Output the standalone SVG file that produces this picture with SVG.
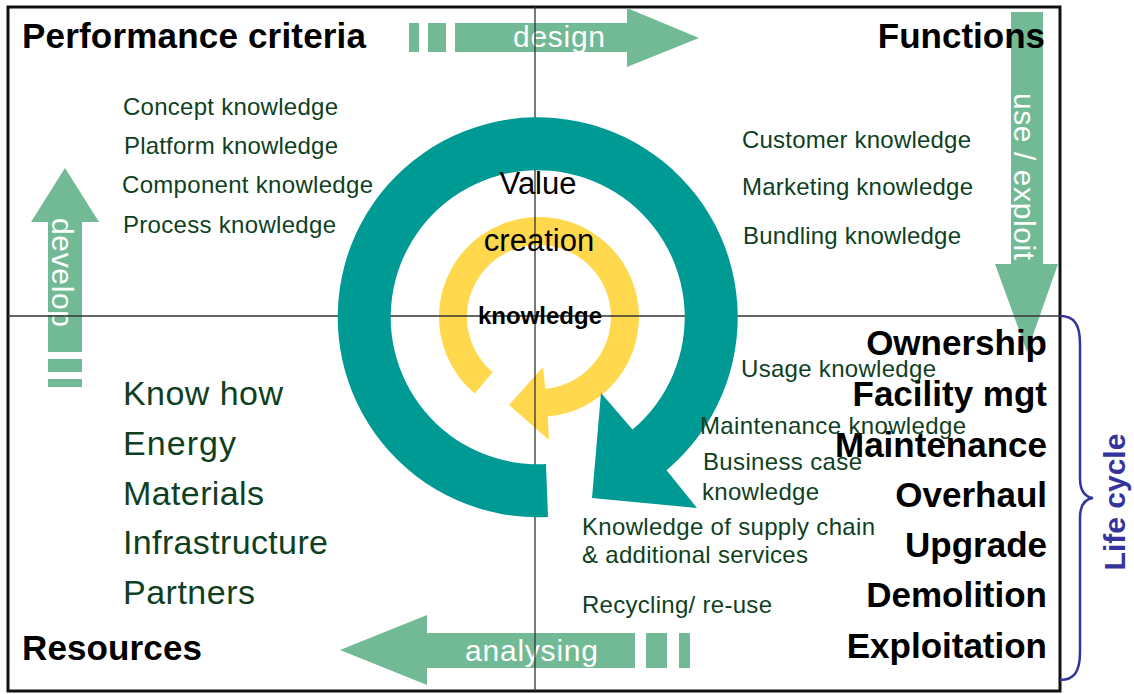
<svg xmlns="http://www.w3.org/2000/svg" width="1134" height="694" viewBox="0 0 1134 694">
  <style>
    .flow { fill: #72BA95; }
    .flow-label { font-family: "Liberation Sans", Arial, sans-serif; font-size: 30px; fill: #ffffff; }
    .head { font-family: "Liberation Sans", Arial, sans-serif; font-size: 35px; font-weight: bold; fill: #000000; }
    .know { font-family: "Liberation Sans", Arial, sans-serif; font-size: 24px; fill: #0F3F22; }
    .res { font-family: "Liberation Sans", Arial, sans-serif; font-size: 34px; fill: #0F3F22; }
    .grid { stroke: #333333; stroke-width: 1.3; fill: none; }
    .core { font-family: "Liberation Sans", Arial, sans-serif; fill: #000000; }
    .cycle { font-family: "Liberation Sans", Arial, sans-serif; font-size: 30px; font-weight: bold; fill: #34349C; }
  </style>

  <rect width="1134" height="694" fill="#ffffff"/>

  <!-- frame -->
  <rect x="8" y="7" width="1052" height="684" fill="none" stroke="#111111" stroke-width="3"/>

  <!-- flow arrows round the quadrants -->
  <g id="connectors">
    <g id="arrow-design">
      <rect class="flow" x="409" y="23" width="10" height="29"/>
      <rect class="flow" x="428" y="23" width="18" height="29"/>
      <polygon class="flow" points="455,23 627,23 627,8 699,38 627,67 627,52 455,52"/>
      <text class="flow-label" x="513" y="47" textLength="92">design</text>
    </g>
    <g id="arrow-use">
      <polygon class="flow" points="1011,12 1043,12 1043,264 1058,264 1027,352 995,264 1011,264"/>
      <text class="flow-label" transform="translate(1014,93) rotate(90)" textLength="167">use / exploit</text>
    </g>
    <g id="arrow-analysing">
      <rect class="flow" x="679" y="633" width="11" height="35"/>
      <rect class="flow" x="646" y="633" width="21" height="35"/>
      <polygon class="flow" points="635,633 427,633 427,615 340,650 427,685 427,668 635,668"/>
      <text class="flow-label" x="465" y="661" textLength="133">analysing</text>
    </g>
    <g id="arrow-develop">
      <rect class="flow" x="48" y="379" width="34" height="8"/>
      <rect class="flow" x="48" y="359" width="34" height="13"/>
      <polygon class="flow" points="48,352 48,222 31,222 65,168 99,222 82,222 82,352"/>
      <text class="flow-label" transform="translate(52,218) rotate(90)" textLength="109">develop</text>
    </g>
  </g>

  <!-- inner knowledge cycle -->
  <g id="knowledge-cycle">
    <path fill="#FFD84D" d="M474.7,393.6 A100,100 0 1 1 547.7,416.6 L549,440 L509,405 L543,367 L545.3,388.7 A72,72 0 1 0 492.7,372.2 Z"/>
  </g>

  <!-- quadrant axes -->
  <g id="axes">
    <line class="grid" x1="535" y1="7" x2="535" y2="691"/>
    <line class="grid" x1="8" y1="316" x2="1060" y2="316"/>
  </g>

  <!-- outer value creation cycle -->
  <g id="value-cycle">
    <path fill="#009A94" d="M548,517 A200,200 0 1 1 666.6,470.2 L697,508 L592,498 L601,393 L632.5,429.6 A147,147 0 1 0 546,464 Z"/>
  </g>

  <g id="center-labels">
    <text class="core" x="538" y="194" font-size="31" text-anchor="middle">Value</text>
    <text class="core" x="539" y="251" font-size="31" text-anchor="middle">creation</text>
    <text class="core" x="540" y="324" font-size="24" font-weight="bold" text-anchor="middle">knowledge</text>
  </g>

  <!-- quadrant headings -->
  <g id="performance-criteria"><text class="head" x="22" y="48" textLength="344">Performance criteria</text></g>
  <g id="functions"><text class="head" x="1045" y="48" text-anchor="end">Functions</text></g>
  <g id="resources"><text class="head" x="22" y="660" textLength="180">Resources</text></g>

  <g id="development-knowledge">
    <text class="know" x="123" y="115" textLength="215">Concept knowledge</text>
    <text class="know" x="124" y="154" textLength="214">Platform knowledge</text>
    <text class="know" x="122" y="193" textLength="251">Component knowledge</text>
    <text class="know" x="123" y="233" textLength="213">Process knowledge</text>
  </g>

  <g id="market-knowledge">
    <text class="know" x="742" y="148" textLength="229">Customer knowledge</text>
    <text class="know" x="742" y="195" textLength="231">Marketing knowledge</text>
    <text class="know" x="743" y="244" textLength="218">Bundling knowledge</text>
  </g>

  <g id="resource-list">
    <text class="res" x="123" y="405" textLength="160">Know how</text>
    <text class="res" x="123" y="455" textLength="113">Energy</text>
    <text class="res" x="123" y="505" textLength="141">Materials</text>
    <text class="res" x="123" y="554" textLength="205">Infrastructure</text>
    <text class="res" x="123" y="604" textLength="132">Partners</text>
  </g>

  <g id="life-cycle-phases">
    <text class="head" x="1047" y="355" text-anchor="end">Ownership</text>
    <text class="head" x="1047" y="406" text-anchor="end">Facility mgt</text>
    <text class="head" x="1047" y="457" text-anchor="end">Maintenance</text>
    <text class="head" x="1047" y="507" text-anchor="end">Overhaul</text>
    <text class="head" x="1047" y="557" text-anchor="end">Upgrade</text>
    <text class="head" x="1047" y="607" text-anchor="end">Demolition</text>
    <text class="head" x="1047" y="658" text-anchor="end">Exploitation</text>
  </g>

  <g id="life-cycle-knowledge">
    <text class="know" x="741" y="377" textLength="195">Usage knowledge</text>
    <text class="know" x="700" y="434" textLength="266">Maintenance knowledge</text>
    <text class="know" x="703" y="470" textLength="159">Business case</text>
    <text class="know" x="702" y="500" textLength="117">knowledge</text>
    <text class="know" x="582" y="535" textLength="293">Knowledge of supply chain</text>
    <text class="know" x="582" y="563" textLength="226">&amp; additional services</text>
    <text class="know" x="582" y="613" textLength="190">Recycling/ re-use</text>
  </g>

  <g id="life-cycle">
    <path d="M1060,316 C1074,316 1080,324 1080,344 L1080,478 C1080,491 1085,497 1093,498 C1085,499 1080,505 1080,518 L1080,652 C1080,672 1074,680 1060,680" fill="none" stroke="#34349C" stroke-width="2.5"/>
    <text class="cycle" transform="translate(1125,502) rotate(-90)" text-anchor="middle">Life cycle</text>
  </g>
</svg>
